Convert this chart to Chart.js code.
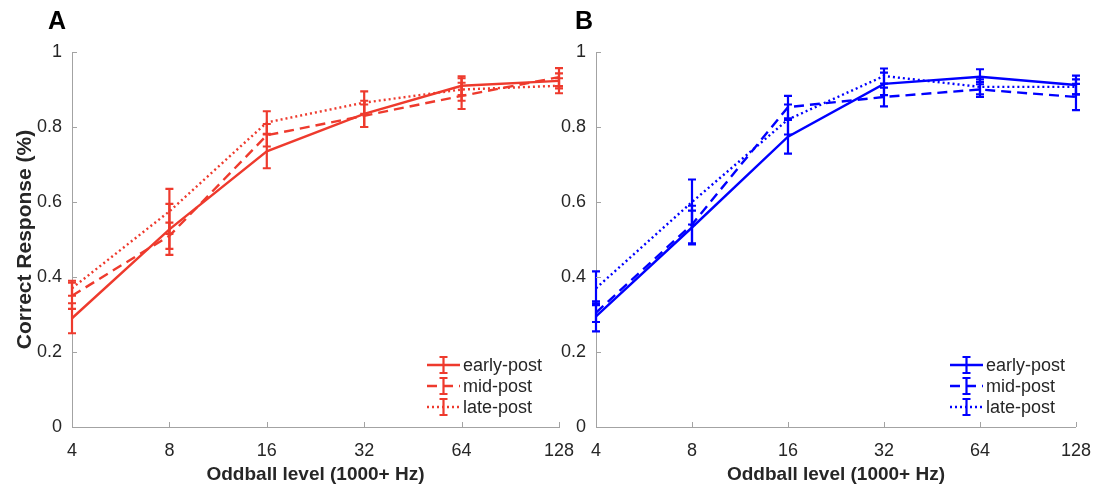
<!DOCTYPE html>
<html><head><meta charset="utf-8">
<script src="https://cdn.jsdelivr.net/npm/chart.js@4"></script>
<style>
html,body{margin:0;padding:0;background:#fff;width:1104px;height:492px;overflow:hidden}
.wrap{position:absolute;top:0;height:492px}
#wa{left:0;width:600px}
#wb{left:540px;width:564px}
canvas{display:block}
</style></head><body>
<div id="wa" class="wrap"><canvas id="ca"></canvas></div>
<div id="wb" class="wrap"><canvas id="cb"></canvas></div>
<script>
// ---- data ----
const categories = ['4','8','16','32','64','128'];
const yTicks = [0, 0.2, 0.4, 0.6, 0.8, 1];
const seriesNames = ['early-post', 'mid-post', 'late-post'];

const earlyA    = [0.290, 0.527, 0.735, 0.835, 0.910, 0.923];
const earlyAErr = [0.040, 0.068, 0.045, 0.035, 0.025, 0.020];
const midA      = [0.350, 0.510, 0.778, 0.830, 0.883, 0.933];
const midAErr   = [0.035, 0.035, 0.030, 0.030, 0.035, 0.024];
const lateA     = [0.370, 0.575, 0.812, 0.865, 0.900, 0.910];
const lateAErr  = [0.020, 0.060, 0.030, 0.030, 0.030, 0.020];

const earlyB    = [0.295, 0.532, 0.774, 0.915, 0.934, 0.912];
const earlyBErr = [0.040, 0.045, 0.045, 0.030, 0.020, 0.025];
const midB      = [0.305, 0.540, 0.853, 0.880, 0.900, 0.880];
const midBErr   = [0.025, 0.050, 0.030, 0.025, 0.020, 0.035];
const lateB     = [0.370, 0.600, 0.820, 0.936, 0.907, 0.907];
const lateBErr  = [0.045, 0.060, 0.040, 0.020, 0.020, 0.020];

// ---- styles ----
const RED = 'rgb(238,58,45)';
const BLUE = 'rgb(0,0,255)';
const AX = '#a3a3a3';
const TXT = '#262626';
const FF = '"Liberation Sans", Arial, Helvetica, sans-serif';
const DASHES = [[], [10, 6], [2, 3]];

function makeDatasets(color, vals, errs) {
  return vals.map((v, i) => ({
    label: seriesNames[i],
    data: v,
    errors: errs[i],
    borderColor: color,
    backgroundColor: color,
    borderWidth: 2.4,
    borderDash: DASHES[i],
    pointRadius: 0,
    tension: 0,
    clip: false
  }));
}

function panelPlugin(letter, letterX, legendX) {
  return {
    id: 'panel' + letter,
    afterDatasetsDraw(chart) {
      const ctx = chart.ctx, ys = chart.scales.y;
      chart.data.datasets.forEach((ds, di) => {
        const meta = chart.getDatasetMeta(di);
        ctx.save();
        ctx.strokeStyle = ds.borderColor;
        ctx.lineWidth = 2.2;
        ctx.setLineDash([]);
        meta.data.forEach((pt, i) => {
          const v = ds.data[i], e = ds.errors[i];
          const px = pt.x, y1 = ys.getPixelForValue(v + e), y2 = ys.getPixelForValue(v - e);
          ctx.beginPath();
          ctx.moveTo(px, y1); ctx.lineTo(px, y2);
          ctx.moveTo(px - 4, y1); ctx.lineTo(px + 4, y1);
          ctx.moveTo(px - 4, y2); ctx.lineTo(px + 4, y2);
          ctx.stroke();
        });
        ctx.restore();
      });
    },
    afterDraw(chart) {
      const ctx = chart.ctx, xs = chart.scales.x, ys = chart.scales.y, ca = chart.chartArea;
      ctx.save();
      // inward ticks
      ctx.strokeStyle = AX; ctx.lineWidth = 1; ctx.setLineDash([]);
      ctx.beginPath();
      categories.forEach((c, i) => {
        const px = Math.round(xs.getPixelForTick(i)) + 0.5;
        ctx.moveTo(px, ca.bottom); ctx.lineTo(px, ca.bottom - 5);
      });
      yTicks.forEach(v => {
        const py = Math.round(ys.getPixelForValue(v)) + 0.5;
        ctx.moveTo(ca.left, py); ctx.lineTo(ca.left + 5, py);
      });
      ctx.stroke();
      // panel letter
      ctx.fillStyle = '#000';
      ctx.font = 'bold 25px ' + FF;
      ctx.textBaseline = 'alphabetic';
      ctx.textAlign = 'left';
      ctx.fillText(letter, letterX, 29);
      // legend
      const rows = [365, 386, 407];
      chart.data.datasets.forEach((ds, i) => {
        const ry = rows[i];
        ctx.strokeStyle = ds.borderColor;
        ctx.lineWidth = 2.4;
        ctx.setLineDash(ds.borderDash);
        ctx.beginPath(); ctx.moveTo(legendX, ry); ctx.lineTo(legendX + 33, ry); ctx.stroke();
        ctx.setLineDash([]);
        ctx.lineWidth = 2.2;
        const gx = legendX + 16.5;
        ctx.beginPath();
        ctx.moveTo(gx, ry - 8); ctx.lineTo(gx, ry + 8);
        ctx.moveTo(gx - 4, ry - 8); ctx.lineTo(gx + 4, ry - 8);
        ctx.moveTo(gx - 4, ry + 8); ctx.lineTo(gx + 4, ry + 8);
        ctx.stroke();
        ctx.fillStyle = TXT;
        ctx.font = '18px ' + FF;
        ctx.textBaseline = 'middle';
        ctx.fillText(ds.label, legendX + 36, ry + 1);
      });
      ctx.restore();
    }
  };
}

function makeChart(id, color, vals, errs, opts) {
  return new Chart(document.getElementById(id), {
    type: 'line',
    data: { labels: categories, datasets: makeDatasets(color, vals, errs) },
    options: {
      responsive: true,
      maintainAspectRatio: false,
      animation: false,
      events: [],
      layout: { padding: { top: 52, right: opts.right, left: 0, bottom: 0 } },
      plugins: { legend: { display: false }, tooltip: { enabled: false }, title: { display: false } },
      scales: {
        x: {
          type: 'category',
          offset: false,
          grid: { display: true, drawOnChartArea: false, drawTicks: false },
          border: { display: true, color: AX, width: 1 },
          ticks: { color: TXT, font: { family: FF, size: 18 }, padding: 13, maxRotation: 0, autoSkip: false },
          title: { display: true, text: 'Oddball level (1000+ Hz)', color: TXT,
                   font: { family: FF, size: 19, weight: 'bold' }, padding: { top: 0, bottom: 6 } },
          afterFit(s) { s.height = 65; }
        },
        y: {
          min: 0, max: 1,
          afterBuildTicks(s) { s.ticks = yTicks.map(v => ({ value: v })); },
          grid: { display: true, drawOnChartArea: false, drawTicks: false },
          border: { display: true, color: AX, width: 1 },
          ticks: { color: TXT, font: { family: FF, size: 18 }, padding: 10, callback: v => String(v) },
          title: { display: opts.yTitle, text: 'Correct Response (%)', color: TXT,
                   font: { family: FF, size: 21, weight: 'bold' }, padding: { top: 13, bottom: 0 } },
          afterFit(s) { s.width = opts.yWidth; }
        }
      }
    },
    plugins: [panelPlugin(opts.letter, opts.letterX, opts.legendX)]
  });
}

makeChart('ca', RED, [earlyA, midA, lateA], [earlyAErr, midAErr, lateAErr],
  { right: 41, yWidth: 72, yTitle: true, letter: 'A', letterX: 48, legendX: 427 });
makeChart('cb', BLUE, [earlyB, midB, lateB], [earlyBErr, midBErr, lateBErr],
  { right: 20, yWidth: 56, yTitle: false, letter: 'B', letterX: 35, legendX: 410 });
</script>
</body></html>
